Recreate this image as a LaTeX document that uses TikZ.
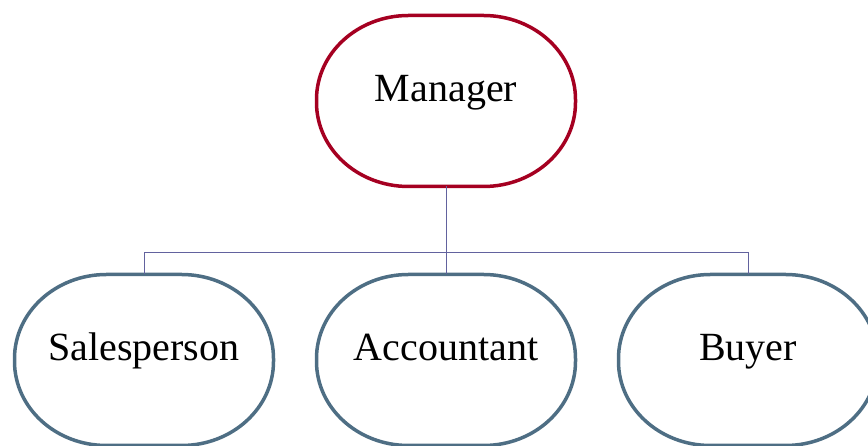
\documentclass[tikz,border=0pt]{standalone}
\usepackage{fontspec}
\setmainfont{Liberation Serif}
\usepackage{xcolor}
\usepackage{tikz}
\definecolor{bossred}{HTML}{A50021}
\definecolor{staffblue}{HTML}{4E6E84}
\definecolor{linkline}{HTML}{62629E}
% outline of a role box: straight edges and round corners
\newcommand{\pillpath}[1]{([xshift=92pt]#1.north west) -- ([xshift=-92pt]#1.north east)
  arc[start angle=90,end angle=0,x radius=92pt,y radius=84pt] -- ([yshift=84pt]#1.south east)
  arc[start angle=0,end angle=-90,x radius=92pt,y radius=84pt] -- ([xshift=92pt]#1.south west)
  arc[start angle=270,end angle=180,x radius=92pt,y radius=84pt] -- ([yshift=-84pt]#1.north west)
  arc[start angle=180,end angle=90,x radius=92pt,y radius=84pt] -- cycle}

\begin{document}
\begin{tikzpicture}[x=1pt,y=1pt,
  role/.style={minimum width=259pt,minimum height=171pt,inner sep=0pt,outer sep=0pt,
    font=\fontsize{40}{48}\selectfont,text height=30pt,text depth=28pt},
  rim/.style={line width=3.5pt},
  link/.style={draw=linkline,line width=1pt}]
\useasboundingbox (0,0) rectangle (868,446);
\node[role] (mgr) at (446,345) {Manager};
\draw[rim,bossred] \pillpath{mgr};
%
\node[role] (sales) at (144,86) {Salesperson};
\node[role] (acct) at (446,86) {Accountant};
\node[role] (buyer) at (748,86) {Buyer};
\foreach \n in {sales,acct,buyer}
  \draw[rim,staffblue] \pillpath{\n};
%
\coordinate (bus) at (446,193);
\draw[link] (mgr.south) -- (bus) -| (sales.north);
\draw[link] (bus) -| (buyer.north);
\draw[link] (bus) -- (acct.north);
\end{tikzpicture}
\end{document}
